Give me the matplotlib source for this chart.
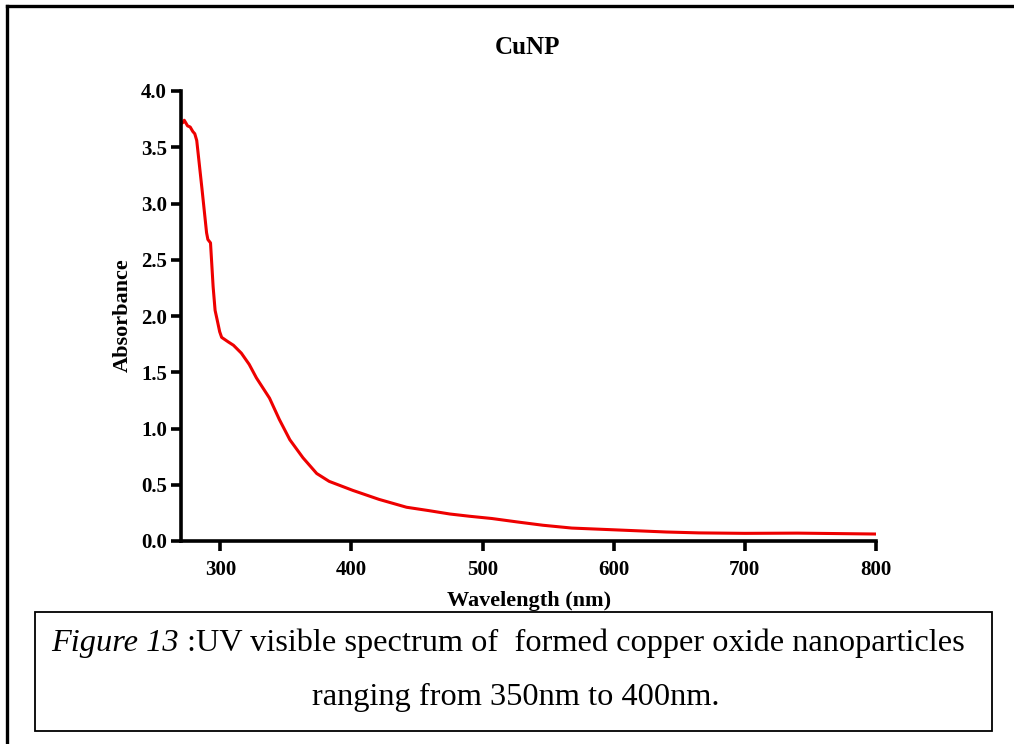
import matplotlib
matplotlib.use("Agg")
import matplotlib.pyplot as plt
from matplotlib.patches import Rectangle
from matplotlib.lines import Line2D

# spectrum
wavelength = [270, 271.5, 272.5, 275, 277, 279, 280.5, 282, 286, 289.5, 290.5, 292.5,
              294.5, 296, 297.5, 299.5, 301, 306, 310, 316, 322, 327.5, 337.5, 345,
              353, 363, 373.5, 383, 401, 421, 442, 459, 475, 490, 507, 526, 546,
              568, 599, 640, 665, 700, 740, 800]
absorbance = [3.71, 3.72, 3.74, 3.69, 3.68, 3.64, 3.62, 3.56, 3.13, 2.74, 2.68, 2.65,
              2.26, 2.05, 1.97, 1.86, 1.81, 1.77, 1.74, 1.67, 1.57, 1.45, 1.27, 1.08,
              0.90, 0.74, 0.60, 0.53, 0.45, 0.37, 0.30, 0.27, 0.24, 0.22, 0.20, 0.17, 0.14,
              0.115, 0.10, 0.08, 0.072, 0.068, 0.07, 0.062]

x_ticks = [300, 400, 500, 600, 700, 800]
y_ticks = [0.0, 0.5, 1.0, 1.5, 2.0, 2.5, 3.0, 3.5, 4.0]

serif = "Liberation Serif"
W, H = 1014, 744

fig = plt.figure(figsize=(W / 100, H / 100), dpi=100)
ax = fig.add_axes([181 / W, 1 - 541 / H, (876 - 181) / W, (541 - 91) / H])

ax.plot(wavelength, absorbance, color="#ee0000", lw=2.2, solid_joinstyle="round")

ax.set_xlim(270, 800)
ax.set_ylim(0, 4.0)
ax.set_xticks(x_ticks)
ax.set_yticks(y_ticks)
ax.set_xticklabels([str(t) for t in x_ticks])
ax.set_yticklabels(["%.1f" % t for t in y_ticks])

for s in ["top", "right"]:
    ax.spines[s].set_visible(False)
for s in ["left", "bottom"]:
    ax.spines[s].set_linewidth(2.6)
ax.tick_params(length=7, width=2.6, pad=3)
for lab in ax.get_xticklabels() + ax.get_yticklabels():
    lab.set_fontfamily(serif)
    lab.set_fontweight("bold")
    lab.set_fontsize(15)
ax.tick_params(axis="x", pad=7)

fig.text(528 / W, 1 - 47 / H, "CuNP", ha="center", va="center",
         family=serif, weight="bold", fontsize=18)
fig.text(529 / W, 1 - 601 / H, "Wavelength (nm)", ha="center", va="center",
         family=serif, weight="bold", fontsize=16)
fig.text(123 / W, 1 - 315 / H, "Absorbance", ha="center", va="center", rotation=90,
         family=serif, weight="bold", fontsize=16)

# outer frame (top and left edges only, picture is cropped)
fig.add_artist(Line2D([7 / W, 7 / W], [0, 1 - 6 / H], transform=fig.transFigure,
                      color="black", lw=2.4))
fig.add_artist(Line2D([7 / W, 1], [1 - 6 / H, 1 - 6 / H], transform=fig.transFigure,
                      color="black", lw=2.4))

# caption box
fig.add_artist(Rectangle((35 / W, 1 - 731 / H), (992 - 35) / W, (731 - 612) / H,
                         transform=fig.transFigure, fill=False, ec="black", lw=1.3))

cap_size = 23.3
t1 = fig.text(0, 1 - 643 / H, "Figure 13", ha="left", va="center",
              family=serif, style="italic", fontsize=cap_size)
t2 = fig.text(0, 1 - 643 / H, " :UV visible spectrum of  formed copper oxide nanoparticles",
              ha="left", va="center", family=serif, fontsize=cap_size)
fig.canvas.draw()
r = fig.canvas.get_renderer()
w1 = t1.get_window_extent(r).width
w2 = t2.get_window_extent(r).width
x0 = 508 - (w1 + w2) / 2
t1.set_x(x0 / W)
t2.set_x((x0 + w1) / W)
fig.text(516 / W, 1 - 697 / H, "ranging from 350nm to 400nm.", ha="center", va="center",
         family=serif, fontsize=cap_size)

fig.savefig("out.png", dpi=100)
